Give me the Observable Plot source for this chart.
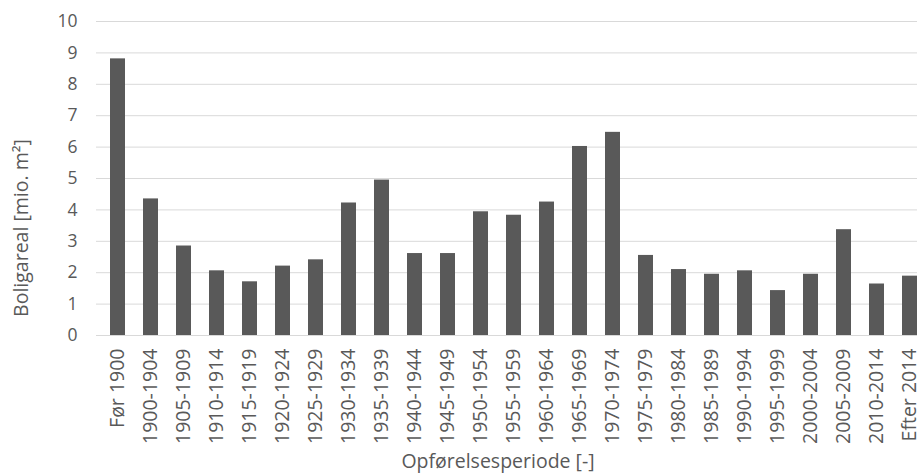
<!DOCTYPE html>
<html>
<head>
<meta charset="utf-8">
<script src="https://cdn.jsdelivr.net/npm/d3@7"></script>
<script src="https://cdn.jsdelivr.net/npm/@observablehq/plot@0.6"></script>
<style>
  html, body { margin: 0; padding: 0; overflow: hidden; background: #fff; }
  #wrap { position: relative; width: 917px; height: 476px; overflow: hidden; }
  #chart svg { max-width: none !important; width: 935px; height: 476px; display: block; }
  .title { position: absolute; font-family: "Open Sans", sans-serif; color: #595959; white-space: nowrap; line-height: 1; }
  #ytitle { left: 21px; top: 228px; font-size: 19.5px; transform: translate(-50%, -50%) rotate(-90deg); }
  #xtitle { left: 498px; top: 461px; font-size: 19.5px; transform: translate(-50%, -50%); }
</style>
</head>
<body>
<div id="wrap">
  <div id="chart"></div>
  <div class="title" id="ytitle">Boligareal [mio. m²]</div>
  <div class="title" id="xtitle">Opførelsesperiode [-]</div>
</div>
<script>
const periods = ["Før 1900","1900-1904","1905-1909","1910-1914","1915-1919","1920-1924","1925-1929","1930-1934","1935-1939","1940-1944","1945-1949","1950-1954","1955-1959","1960-1964","1965-1969","1970-1974","1975-1979","1980-1984","1985-1989","1990-1994","1995-1999","2000-2004","2005-2009","2010-2014","Efter 2014"];
const areas = [8.81,4.35,2.85,2.06,1.71,2.21,2.41,4.22,4.95,2.61,2.61,3.94,3.83,4.25,6.02,6.47,2.55,2.10,1.95,2.06,1.43,1.95,3.37,1.64,1.89];
const yTicks = [0,1,2,3,4,5,6,7,8,9,10];

const data = periods.map((p, i) => ({period: p, area: areas[i]}));

const chart = Plot.plot({
  width: 935,
  height: 476,
  marginLeft: 96,
  marginRight: 5,
  marginTop: 21,
  marginBottom: 141,
  style: {fontFamily: "Open Sans, sans-serif", color: "#595959", background: "#fff", maxWidth: "none"},
  x: {domain: periods, paddingInner: 0.55, paddingOuter: 0.275, label: null, tickSize: 0, tickPadding: 13, tickRotate: -90},
  y: {domain: [0, 10], ticks: yTicks, label: null, tickSize: 0, tickPadding: 19},
  marks: [
    Plot.ruleY(yTicks, {stroke: "#d9d9d9", strokeWidth: 1}),
    Plot.barY(data, {x: "period", y: "area", fill: "#595959"}),
    Plot.axisY({ticks: yTicks, tickSize: 0, tickPadding: 19, fontSize: 17.5, label: null}),
    Plot.axisX({tickSize: 0, tickPadding: 13, tickRotate: -90, fontSize: 19.5, label: null})
  ]
});
document.getElementById("chart").appendChild(chart);
</script>
</body>
</html>
